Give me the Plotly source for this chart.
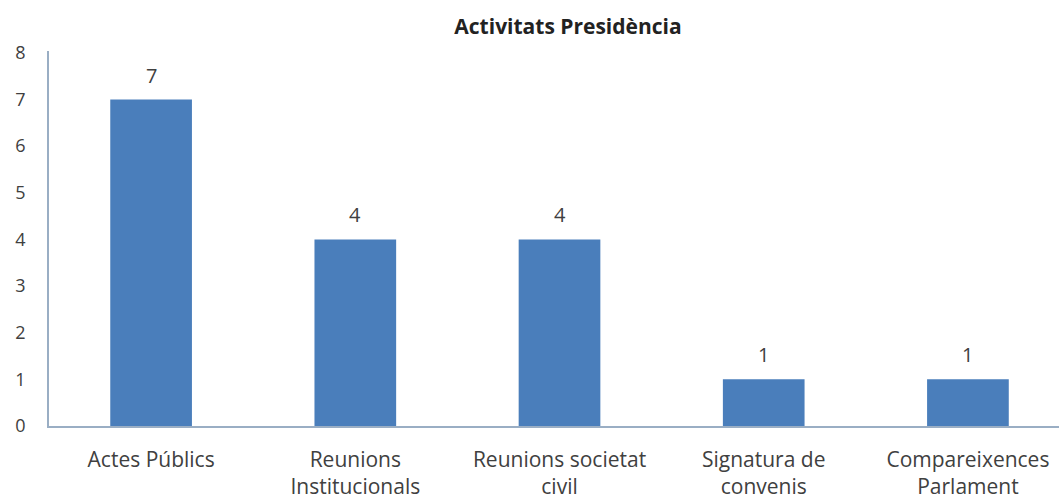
import plotly.graph_objects as go

# Activity counts by category
categories = [
    "Actes Públics",
    "Reunions<br>Institucionals",
    "Reunions societat<br>civil",
    "Signatura de<br>convenis",
    "Compareixences<br>Parlament",
]
values = [7, 4, 4, 1, 1]
y_ticks = [0, 1, 2, 3, 4, 5, 6, 7, 8]

bar_color = "#4a7ebb"
text_color = "#404040"
axis_color = "#9aaec4"
font_family = "Open Sans, Noto Sans, sans-serif"

xs = list(range(len(categories)))

fig = go.Figure(
    go.Bar(
        x=xs,
        y=values,
        width=0.4,
        marker=dict(color=bar_color, line=dict(width=0)),
    )
)

# value labels above each bar
for xi, v in zip(xs, values):
    fig.add_annotation(
        x=xi,
        y=v,
        text=str(v),
        showarrow=False,
        yanchor="bottom",
        yshift=9,
        font=dict(size=20, color=text_color, family=font_family),
    )

fig.update_layout(
    width=1059,
    height=497,
    margin=dict(l=49, r=0, t=51, b=71),
    paper_bgcolor="white",
    plot_bgcolor="white",
    showlegend=False,
    title=dict(
        text="<b>Activitats Presidència</b>",
        x=568 / 1059,
        xanchor="center",
        y=1 - 27 / 497,
        yanchor="middle",
        font=dict(size=21, color="#222222", family=font_family),
    ),
    font=dict(family=font_family, color=text_color),
)

fig.update_xaxes(
    range=[-0.5, 4.446],
    tickmode="array",
    tickvals=xs,
    ticktext=categories,
    tickfont=dict(size=21, color=text_color),
    showgrid=False,
    zeroline=False,
    showline=True,
    linecolor=axis_color,
    linewidth=1.5,
    ticks="",
    ticklabelstandoff=14,
    automargin=False,
)

fig.update_yaxes(
    range=[0, 8.04],
    tickmode="array",
    tickvals=y_ticks,
    tickfont=dict(size=18, color=text_color),
    showgrid=False,
    zeroline=False,
    showline=True,
    linecolor=axis_color,
    linewidth=1.5,
    ticks="",
    ticklabelstandoff=18,
    automargin=False,
)

fig.write_html("out.html")
